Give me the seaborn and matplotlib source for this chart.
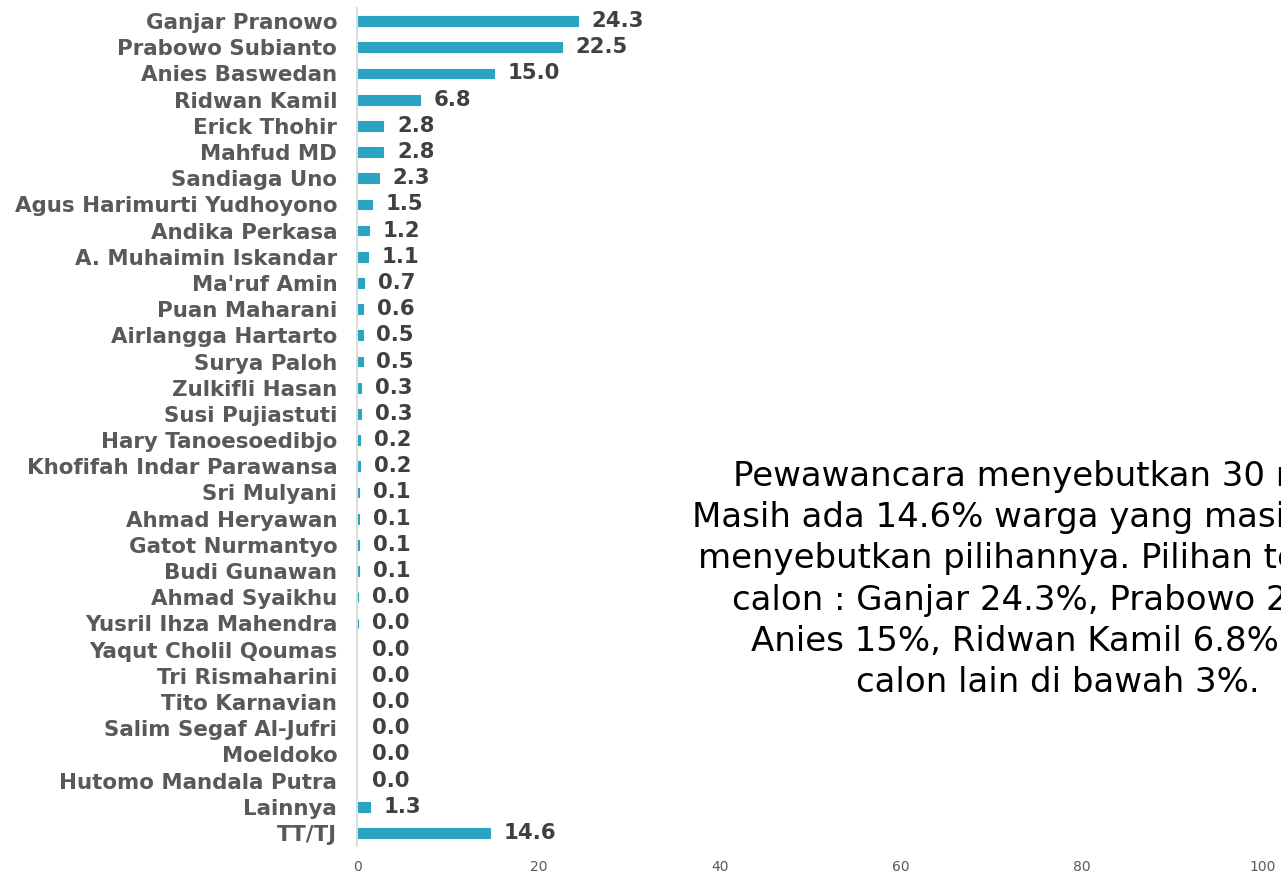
import matplotlib
matplotlib.use("Agg")
import matplotlib.pyplot as plt
import seaborn as sns
import pandas as pd

names = [
    "Ganjar Pranowo", "Prabowo Subianto", "Anies Baswedan", "Ridwan Kamil",
    "Erick Thohir", "Mahfud MD", "Sandiaga Uno", "Agus Harimurti Yudhoyono",
    "Andika Perkasa", "A. Muhaimin Iskandar", "Ma'ruf Amin", "Puan Maharani",
    "Airlangga Hartarto", "Surya Paloh", "Zulkifli Hasan", "Susi Pujiastuti",
    "Hary Tanoesoedibjo", "Khofifah Indar Parawansa", "Sri Mulyani",
    "Ahmad Heryawan", "Gatot Nurmantyo", "Budi Gunawan", "Ahmad Syaikhu",
    "Yusril Ihza Mahendra", "Yaqut Cholil Qoumas", "Tri Rismaharini",
    "Tito Karnavian", "Salim Segaf Al-Jufri", "Moeldoko", "Hutomo Mandala Putra",
    "Lainnya", "TT/TJ",
]
values = [
    24.3, 22.5, 15.0, 6.8,
    2.8, 2.8, 2.3, 1.5,
    1.2, 1.1, 0.7, 0.6,
    0.5, 0.5, 0.3, 0.3,
    0.2, 0.2, 0.1,
    0.1, 0.1, 0.1, 0.04,
    0.04, 0.0, 0.0,
    0.0, 0.0, 0.0, 0.0,
    1.3, 14.6,
]
x_ticks = [0, 20, 40, 60, 80, 100]

note_lines = [
    "Pewawancara menyebutkan 30 nama.",
    "Masih ada 14.6% warga yang masih belum",
    "menyebutkan pilihannya. Pilihan terhadap",
    "calon : Ganjar 24.3%, Prabowo 22.5%,",
    "Anies 15%, Ridwan Kamil 6.8%, dan",
    "calon lain di bawah 3%.",
]

BAR = "#2BA3C1"

sns.set_theme(style="white")
plt.rcParams["font.family"] = ["DejaVu Sans"]

df = pd.DataFrame({"name": names, "value": values})

W, H = 1281, 876
fig = plt.figure(figsize=(W / 100, H / 100), dpi=100)
ax = fig.add_axes([358 / W, 1 - 846 / H, (1263 - 358) / W, 838 / H])

sns.barplot(data=df, x="value", y="name", orient="h", color=BAR,
            saturation=1, width=0.37, edgecolor=BAR, linewidth=0.8, ax=ax)

for p in ax.patches:
    if p.get_width() == 0:
        p.set_linewidth(0)

for s in ["top", "right", "bottom"]:
    ax.spines[s].set_visible(False)
ax.spines["left"].set_color("#d9d9d9")
ax.spines["left"].set_linewidth(1.3)
ax.spines["left"].set_position(("outward", 1.0))

ax.set_xlim(0, 100)
ax.set_ylim(len(names) - 0.5, -0.5)
ax.set_xticks(x_ticks)
ax.set_xticklabels([str(t) for t in x_ticks], fontsize=10, color="#595959")
ax.set_yticks(range(len(names)))
ax.set_yticklabels(names, fontsize=15.4, fontweight="bold", color="#595959")
ax.set_xlabel("")
ax.set_ylabel("")
ax.tick_params(axis="x", length=0, pad=10)
ax.tick_params(axis="y", length=0, pad=14)

for cont in ax.containers:
    ax.bar_label(cont, fmt="%.1f", padding=10, fontsize=15.3,
                 fontweight="bold", color="#404040")

fig.text(1058 / W, 1 - 579.5 / H, "\n".join(note_lines), ha="center",
         va="center", multialignment="center", fontsize=24.5, color="#000000",
         linespacing=1.32)

fig.savefig("out.png", dpi=100)
